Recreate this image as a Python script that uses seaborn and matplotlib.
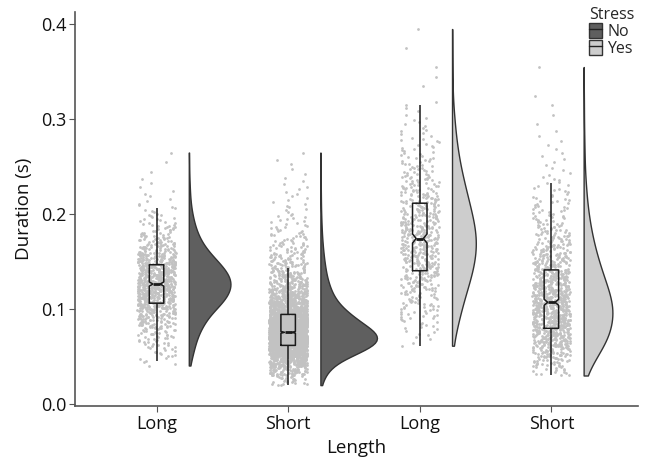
import numpy as np
import pandas as pd
import matplotlib
matplotlib.use("Agg")
import matplotlib.pyplot as plt
from matplotlib.patches import Patch
from matplotlib.lines import Line2D
from matplotlib.legend_handler import HandlerTuple
import seaborn as sns

# duration counts per 0.01 s bin (first bin start given)
bin_width = 0.01

long_no_start = 0.04
long_no_counts = [6, 12, 18, 26, 40, 55, 85, 105, 115, 110, 90, 65, 42, 28,
                  18, 12, 7, 4, 3, 2, 1, 1, 1]

short_no_start = 0.02
short_no_counts = [25, 70, 170, 380, 560, 540, 400, 280, 180, 120, 85, 60, 45,
                   33, 24, 17, 12, 9, 6, 5, 4, 3, 2, 2, 1]

long_yes_start = 0.06
long_yes_counts = [3, 6, 10, 14, 18, 22, 28, 33, 37, 40, 42, 42, 40, 36, 32,
                   28, 24, 20, 16, 13, 10, 8, 6, 5, 3, 3, 0, 1, 1, 1, 0, 1, 0, 1]

short_yes_start = 0.03
short_yes_counts = [15, 30, 48, 68, 80, 85, 90, 88, 80, 70, 60, 50, 42, 34, 27,
                    22, 17, 13, 10, 8, 6, 4, 3, 3, 2, 2, 1, 1, 1, 1, 0, 0, 1]

lengths = ["Long", "Short", "Long", "Short"]
stress = ["No", "No", "Yes", "Yes"]
starts = [long_no_start, short_no_start, long_yes_start, short_yes_start]
counts = [long_no_counts, short_no_counts, long_yes_counts, short_yes_counts]

colors = {"No": "#5f5f5f", "Yes": "#cdcdcd"}


def expand(start, cnts):
    vals = []
    for k, c in enumerate(cnts):
        for i in range(c):
            vals.append(start + bin_width * (k + (i + 0.5) / c))
    return vals


rows = []
for g in range(4):
    for v in expand(starts[g], counts[g]):
        rows.append({"Length": lengths[g], "Stress": stress[g], "Duration": v, "pos": g})
df = pd.DataFrame(rows)
# split violins span [vpos - width/2, ...], so this puts the flat side at pos + 0.245
violin_width = 0.43
df["vpos"] = df["pos"] + 0.245 + violin_width / 2

sns.set_style("ticks")
plt.rcParams["font.family"] = ["Open Sans", "DejaVu Sans"]

fig = plt.figure(figsize=(6.46, 4.59), dpi=100)
ax = fig.add_axes([0.116, 0.115, 0.872, 0.859])

sns.stripplot(data=df, x="pos", y="Duration", native_scale=True, jitter=0.145,
              color="#c2c2c2", size=2.0, linewidth=0, ax=ax, zorder=1)

sns.boxplot(data=df, x="pos", y="Duration", native_scale=True, width=0.11,
            notch=True, showfliers=False, showcaps=False, fill=False, color="#1a1a1a",
            linewidth=1.1, medianprops={"linewidth": 2.0}, ax=ax)

# right-half violins: pad levels push both Stress levels onto the right side
sns.violinplot(data=df, x="vpos", y="Duration", native_scale=True,
               hue="Stress", hue_order=["pad_a", "No", "pad_b", "Yes"],
               palette={"pad_a": "white", "No": colors["No"], "pad_b": "white", "Yes": colors["Yes"]},
               split=True, dodge=False, inner=None, cut=0, bw_method="silverman",
               density_norm="area", common_norm=True, width=violin_width, saturation=1,
               linewidth=1.0, linecolor="#333333", legend=False, ax=ax)

ax.set_xlim(-0.62, 3.66)
ax.set_ylim(-0.002, 0.413)
ax.set_xticks([0, 1, 2, 3])
ax.set_xticklabels(lengths)
ax.set_yticks([0.0, 0.1, 0.2, 0.3, 0.4])
ax.set_yticklabels(["0.0", "0.1", "0.2", "0.3", "0.4"])
ax.tick_params(axis="both", labelsize=13, colors="#555555", labelcolor="#111111",
               length=4, pad=2)
ax.set_xlabel("Length", fontsize=13.5, color="#111111", labelpad=5)
ax.set_ylabel("Duration (s)", fontsize=13.5, color="#111111", labelpad=6)
for s in ["left", "bottom"]:
    ax.spines[s].set_color("#555555")
    ax.spines[s].set_linewidth(1.2)
sns.despine(ax=ax)

mid = Line2D([], [], color="#222222", lw=1.0)
handles = [(Patch(facecolor=colors["No"], edgecolor="#333333"), mid),
           (Patch(facecolor=colors["Yes"], edgecolor="#333333"), mid)]
fig.legend(handles=handles, labels=["No", "Yes"], title="Stress", loc="upper right",
           bbox_to_anchor=(1.0, 1.01), frameon=False, fontsize=11.5, title_fontsize=11.5,
           handlelength=0.8, handleheight=1.1, handletextpad=0.3, labelspacing=0.0,
           borderpad=0.2, alignment="left", handler_map={tuple: HandlerTuple(ndivide=1)})

fig.savefig("out.png", dpi=100)
